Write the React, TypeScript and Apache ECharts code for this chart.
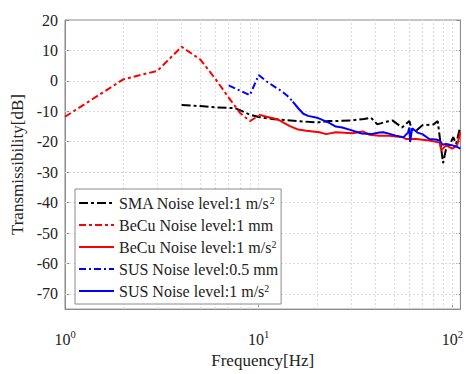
import React, { useEffect, useRef } from 'react';
import * as echarts from 'echarts';

// SMA Noise level: 1 m/s^2
const smaFreq = [4, 5, 6, 7, 7.5, 8, 9, 10, 12, 14, 16, 20, 23, 25, 30, 35, 38, 41, 45, 49, 55, 60, 61.5, 65, 70, 80, 84, 89.5, 92.8, 98.5, 101, 104.6, 109.5];
const smaDb = [-7.9, -8.3, -8.7, -8.9, -8.9, -9.6, -11.1, -11.9, -12.6, -12.9, -13.2, -13.7, -13.2, -13.2, -13.0, -12.5, -12.1, -14.3, -13.5, -13.0, -15.3, -13.2, -15.9, -16.4, -14.6, -14.3, -13.2, -27.0, -22.3, -20.0, -18.5, -20.7, -15.3];

// BeCu Noise level: 1 mm
const becuMmFreq = [1, 2, 3, 4, 5, 6, 7, 8, 9, 10];
const becuMmDb = [-11.8, 0.5, 3.3, 11.2, 7.0, 0.5, -5.5, -10.5, -13.2, -11.5];

// BeCu Noise level: 1 m/s^2
const becuAccFreq = [10, 11, 12.6, 14.4, 16, 17.6, 20.6, 22.3, 25, 30.6, 34.4, 37.4, 42, 47.4, 55.5, 57.5, 65, 76, 86, 87.6, 92.8, 100, 103, 106, 110];
const becuAccDb = [-11.1, -11.8, -12.7, -14.8, -16.0, -16.4, -16.9, -17.5, -16.9, -17.2, -16.6, -17.7, -18.0, -18.0, -18.5, -19.1, -19.1, -19.6, -20.3, -22.8, -21.2, -22.3, -21.7, -21.0, -17.0];

// SUS Noise level: 0.5 mm
const susMmFreq = [7, 8, 9, 10, 11, 12, 13, 14, 15];
const susMmDb = [-1.5, -3.2, -4.7, 1.9, -0.2, -1.8, -3.2, -4.8, -6.8];

// SUS Noise level: 1 m/s^2
const susAccFreq = [15, 16, 17, 18, 20, 23, 25, 27, 30, 34, 38, 42, 44, 48, 51, 56, 59, 60, 60.5, 62, 66, 70, 76, 82, 86, 89, 92.8, 97, 100, 105, 110];
const susAccDb = [-6.8, -9.0, -10.8, -11.5, -12.1, -13.7, -15.0, -15.3, -16.2, -17.3, -17.5, -17.0, -16.9, -17.5, -18.0, -18.5, -17.0, -15.3, -20.1, -15.6, -17.0, -17.5, -19.1, -19.3, -19.6, -21.0, -20.7, -21.0, -21.2, -21.6, -22.3];

const seriesNames = [
  'SMA Noise level:1 m/s^2',
  'BeCu Noise level:1 mm',
  'BeCu Noise level:1 m/s^2',
  'SUS Noise level:0.5 mm',
  'SUS Noise level:1 m/s^2',
];

// tick values
const yTickValues = [-70, -60, -50, -40, -30, -20, -10, 0, 10, 20];
const xGridFreqs = [2, 3, 4, 5, 6, 7, 8, 9, 10, 20, 30, 40, 50, 60, 70, 80, 90, 100];

const zip = (xs: number[], ys: number[]) => xs.map((x, i) => [x, ys[i]]);

const FONT = '"Liberation Serif", "Times New Roman", serif';
const AXIS = '#8c8c8c';
const GRID = '#dcdcdc';
const TEXT = '#222';

export default function App() {
  const ref = useRef<HTMLDivElement>(null);
  useEffect(() => {
    if (!ref.current) return;
    const chart = echarts.init(ref.current, undefined, { renderer: 'svg' });
    const mkLine = (name: string, data: number[][], color: string, type: any) => ({
      name,
      type: 'line',
      data,
      symbol: 'none',
      showSymbol: false,
      z: 3,
      lineStyle: { color, width: 2, type },
      itemStyle: { color },
    });
    const yAxisCommon = {
      type: 'value',
      min: -75,
      max: 20,
      axisLine: { show: true, lineStyle: { color: AXIS } },
      axisTick: { show: true, inside: true, length: 4, lineStyle: { color: AXIS }, customValues: yTickValues },
      splitLine: { show: false },
    };
    chart.setOption({
      animation: false,
      backgroundColor: '#fff',
      grid: {
        left: 65,
        right: 5,
        top: 20,
        bottom: 57,
        show: true,
        borderColor: AXIS,
        borderWidth: 1,
      },
      legend: {
        orient: 'vertical',
        left: 75,
        top: 189,
        z: 20,
        padding: [6, 3, 5, 3],
        itemWidth: 35,
        itemHeight: 14,
        itemGap: 6,
        backgroundColor: '#fff',
        borderColor: AXIS,
        borderWidth: 1,
        borderRadius: 0,
        itemStyle: { opacity: 0 },
        data: seriesNames,
        formatter: (name: string) =>
          name.endsWith('^2') ? name.slice(0, -2) + '{sup|2}' : name,
        textStyle: {
          fontFamily: FONT,
          fontSize: 16,
          color: TEXT,
          rich: {
            sup: { fontFamily: FONT, fontSize: 10, color: TEXT, verticalAlign: 'top', padding: [0, 0, 6, 0] },
          },
        },
      },
      xAxis: {
        type: 'log',
        logBase: 10,
        min: 1,
        max: 110,
        name: 'Frequency[Hz]',
        nameLocation: 'middle',
        nameGap: 39,
        nameTextStyle: { fontFamily: FONT, fontSize: 17, color: TEXT },
        axisLine: { show: true, onZero: false, lineStyle: { color: AXIS } },
        axisTick: { show: true, inside: true, length: 4, lineStyle: { color: AXIS } },
        splitLine: { show: false },
        axisLabel: {
          showMaxLabel: false,
          margin: 20,
          fontFamily: FONT,
          fontSize: 15,
          color: TEXT,
          formatter: (v: number) => `{b|10}{sup|${Math.round(Math.log10(v))}}`,
          rich: {
            b: { fontFamily: FONT, fontSize: 16, color: TEXT },
            sup: { fontFamily: FONT, fontSize: 10.5, color: TEXT, verticalAlign: 'top', padding: [0, 0, 9, 0] },
          },
        },
      },
      yAxis: [
        {
          ...yAxisCommon,
          name: 'Transmissibility[dB]',
          nameLocation: 'middle',
          nameGap: 39,
          nameTextStyle: { fontFamily: FONT, fontSize: 17, color: TEXT },
          axisLabel: {
            customValues: yTickValues,
            margin: 7,
            fontFamily: FONT,
            fontSize: 16,
            color: TEXT,
          },
        },
        {
          ...yAxisCommon,
          position: 'right',
          axisLabel: { show: false },
        },
      ],
      series: [
        {
          name: 'grid-lines',
          type: 'line',
          data: [],
          silent: true,
          z: 1,
          markLine: {
            silent: true,
            symbol: 'none',
            animation: false,
            z: 1,
            label: { show: false },
            lineStyle: { color: GRID, type: [2, 2], width: 1 },
            data: [
              ...xGridFreqs.map((f) => ({ xAxis: f })),
              ...yTickValues.slice(0, -1).map((v) => ({ yAxis: v })),
            ],
          },
        },
        mkLine(seriesNames[0], zip(smaFreq, smaDb), '#000000', [9, 3, 3, 3]),
        mkLine(seriesNames[1], zip(becuMmFreq, becuMmDb), '#ff0000', [7, 3, 3, 3]),
        mkLine(seriesNames[2], zip(becuAccFreq, becuAccDb), '#ff0000', 'solid'),
        mkLine(seriesNames[3], zip(susMmFreq, susMmDb), '#0000ff', [7, 3, 2, 3]),
        mkLine(seriesNames[4], zip(susAccFreq, susAccDb), '#0000ff', 'solid'),
      ],
    });
    return () => chart.dispose();
  }, []);
  return <div ref={ref} style={{ width: 466, height: 374, position: 'absolute', left: 0, top: 0 }} />;
}
